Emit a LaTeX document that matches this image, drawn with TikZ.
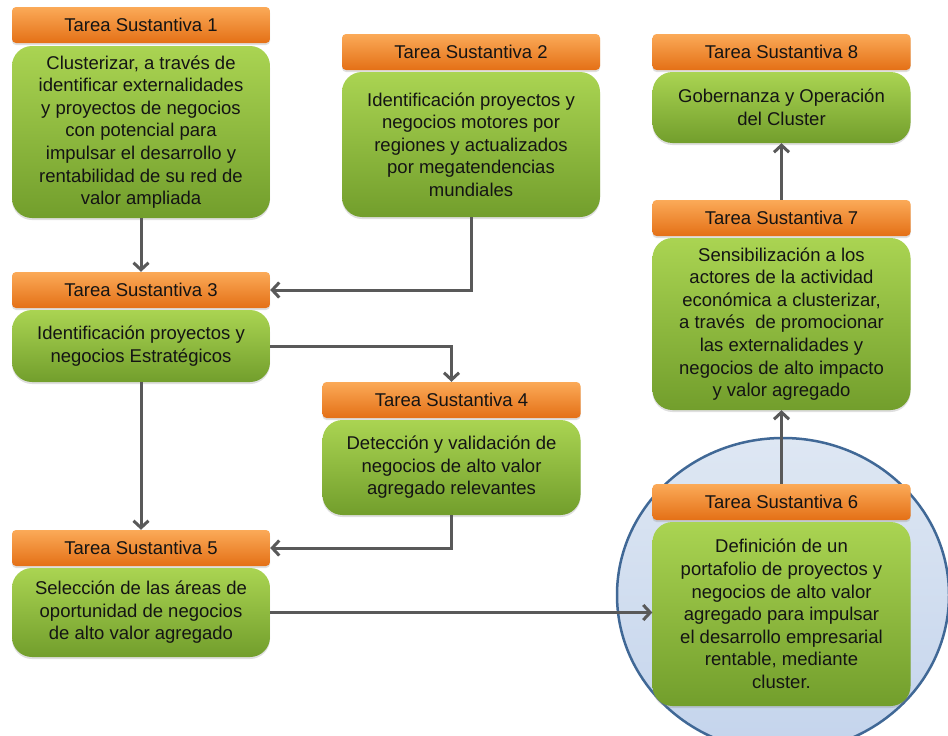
\documentclass[tikz,border=0pt]{standalone}
\usepackage{fontspec}
\setmainfont{Liberation Sans}
\usetikzlibrary{arrows.meta,shadows}
\definecolor{oraT}{RGB}{251,170,88}
\definecolor{oraB}{RGB}{228,112,22}
\definecolor{grnT}{RGB}{170,212,82}
\definecolor{grnB}{RGB}{114,158,44}
\definecolor{arrc}{RGB}{89,89,89}
\definecolor{ellF}{RGB}{222,231,243}
\definecolor{ellB}{RGB}{196,212,236}
\definecolor{ellD}{RGB}{64,104,150}
\definecolor{txt}{RGB}{20,20,20}
\begin{document}
\begin{tikzpicture}[x=1pt,y=-1pt,
  hdr/.style={rounded corners=4pt, top color=oraT, bottom color=oraB, minimum width=258pt, minimum height=36pt, inner sep=0pt, text=txt, font=\fontsize{18.5}{22}\selectfont, drop shadow={opacity=0.25,shadow xshift=0pt,shadow yshift=-2pt}},
  bod/.style={rounded corners=20pt, top color=grnT, bottom color=grnB, minimum width=258pt, inner sep=0pt, align=center, text=txt, font=\fontsize{18.5}{22.6}\selectfont, drop shadow={opacity=0.25,shadow xshift=0pt,shadow yshift=-2pt}},
  arr/.style={draw=arrc, line width=3pt, -{Straight Barb[length=7pt,width=15pt]}}]
\useasboundingbox (0,0) rectangle (948,736);
\fill[white] (0,0) rectangle (948,736);
% highlight ellipse
\shade[top color=ellF, bottom color=ellB, draw=ellD, line width=2.5pt] (783,595) ellipse [x radius=166, y radius=157];

% Task 1
\node[hdr] (h1) at (141,25) {Tarea Sustantiva 1};
\node[bod, minimum height=172pt] (b1) at (141,132) {Clusterizar, a través de\\identificar externalidades\\y proyectos de negocios\\con potencial para\\impulsar el desarrollo y\\rentabilidad de su red de\\valor ampliada};
% Task 2
\node[hdr] (h2) at (471,52) {Tarea Sustantiva 2};
\node[bod, minimum height=145pt] (b2) at (471,144.5) {Identificación proyectos y\\negocios motores por\\regiones y actualizados\\por megatendencias\\mundiales};
% Task 8
\node[hdr] (h8) at (781.5,52) {Tarea Sustantiva 8};
\node[bod, minimum height=71pt] (b8) at (781.5,107.5) {Gobernanza y Operación\\del Cluster};
% Task 7
\node[hdr] (h7) at (781.5,218) {Tarea Sustantiva 7};
\node[bod, minimum height=172pt] (b7) at (781.5,324) {Sensibilización a los\\actores de la actividad\\económica a clusterizar,\\a través \ de promocionar\\las externalidades y\\negocios de alto impacto\\y valor agregado};
% Task 3
\node[hdr] (h3) at (141,290) {Tarea Sustantiva 3};
\node[bod, minimum height=72pt] (b3) at (141,346) {Identificación proyectos y\\negocios Estratégicos};
% Task 4
\node[hdr] (h4) at (451.5,400) {Tarea Sustantiva 4};
\node[bod, minimum height=95pt] (b4) at (451.5,467.5) {Detección y validación de\\negocios de alto valor\\agregado relevantes};
% Task 5
\node[hdr] (h5) at (141,548) {Tarea Sustantiva 5};
\node[bod, minimum height=89pt] (b5) at (141,612.5) {Selección de las áreas de\\oportunidad de negocios\\de alto valor agregado};
% Task 6
\node[hdr] (h6) at (781.5,502) {Tarea Sustantiva 6};
\node[bod, minimum height=184pt] (b6) at (781.5,614) {Definición de un\\portafolio de proyectos y\\negocios de alto valor\\agregado para impulsar\\el desarrollo empresarial\\rentable, mediante\\cluster.};

% connectors
\draw[arr] (b1.south) -- (h3.north);
\draw[arr] (b2.south) |- (h3.east);
\draw[arr] (b3.east) -| (h4.north);
\draw[arr] (b3.south) -- (h5.north);
\draw[arr] (b4.south) |- (h5.east);
\draw[arr] (b5.east) -- (b5.east -| b6.west);
\draw[arr] (h6.north) -- (b7.south);
\draw[arr] (h7.north) -- (b8.south);
\end{tikzpicture}
\end{document}
